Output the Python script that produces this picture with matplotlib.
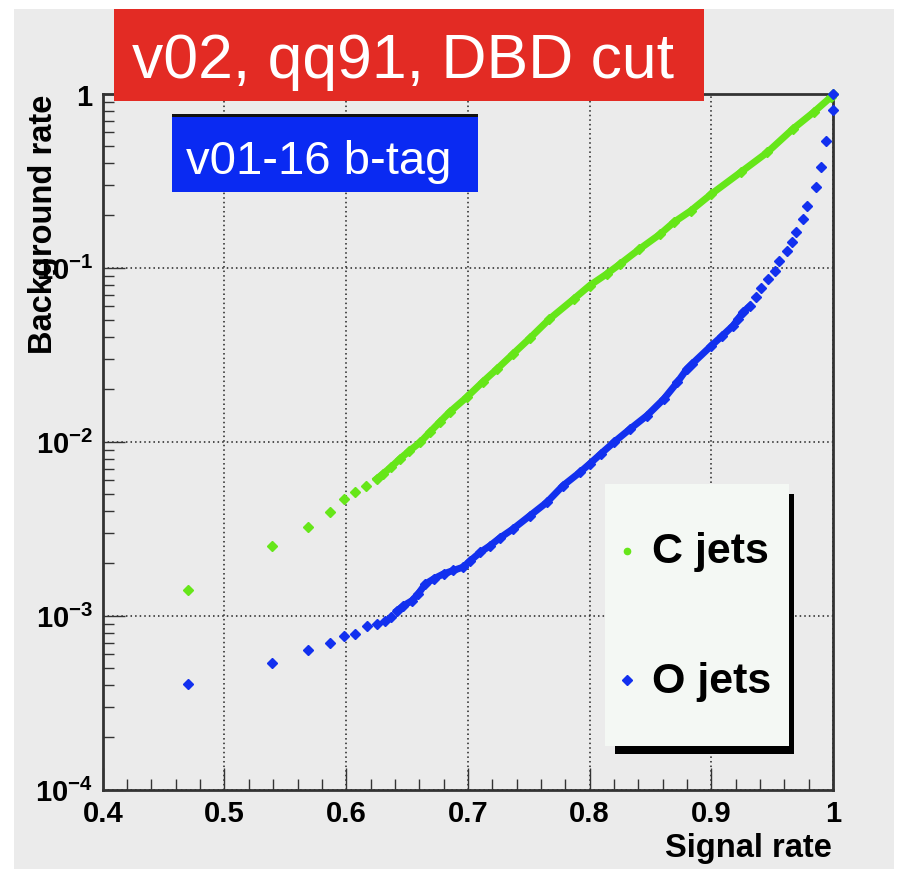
import matplotlib
matplotlib.use('Agg')
import matplotlib.pyplot as plt
from matplotlib.patches import Rectangle
from matplotlib.lines import Line2D
import numpy as np

plt.rcParams['font.family'] = ['Liberation Sans', 'DejaVu Sans']
plt.rcParams['mathtext.fontset'] = 'custom'
plt.rcParams['mathtext.rm'] = 'Liberation Sans'
plt.rcParams['mathtext.bf'] = 'Liberation Sans:bold'
plt.rcParams['mathtext.it'] = 'Liberation Sans:italic'

# C jets (background rate vs signal rate)
c_signal = [0.470, 0.539, 0.569, 0.587, 0.598, 0.607, 0.616, 0.625, 0.630, 0.637,
            0.644, 0.652, 0.661, 0.669, 0.677, 0.685, 0.699, 0.712, 0.724, 0.737,
            0.751, 0.767, 0.787, 0.800, 0.814, 0.825, 0.841, 0.858, 0.869, 0.883,
            0.900, 0.924, 0.946, 0.967, 0.984, 0.998, 1.000]
c_background = [1.41e-3, 2.52e-3, 3.24e-3, 3.94e-3, 4.69e-3, 5.14e-3, 5.56e-3, 6.11e-3, 6.52e-3, 7.16e-3,
                7.96e-3, 8.87e-3, 9.95e-3, 1.14e-2, 1.30e-2, 1.48e-2, 1.80e-2, 2.20e-2, 2.62e-2, 3.19e-2,
                3.94e-2, 5.07e-2, 6.61e-2, 7.89e-2, 9.20e-2, 0.105, 0.128, 0.156, 0.182, 0.212,
                0.265, 0.353, 0.460, 0.627, 0.782, 0.953, 1.0]

# O jets
o_signal = [0.470, 0.539, 0.569, 0.587, 0.598, 0.607, 0.617, 0.625, 0.632, 0.637,
            0.642, 0.647, 0.654, 0.659, 0.665, 0.672, 0.680, 0.688, 0.696, 0.702,
            0.710, 0.718, 0.726, 0.737, 0.751, 0.765, 0.778, 0.792, 0.800, 0.809,
            0.820, 0.833, 0.847, 0.861, 0.872, 0.880, 0.884, 0.900, 0.909, 0.918,
            0.922, 0.926, 0.932, 0.937, 0.941, 0.947, 0.952, 0.956, 0.962, 0.966,
            0.970, 0.975, 0.979, 0.986, 0.990, 0.994, 0.9997, 1.000]
o_background = [4.05e-4, 5.32e-4, 6.35e-4, 6.93e-4, 7.67e-4, 7.85e-4, 8.77e-4, 8.95e-4, 9.35e-4, 9.79e-4,
                1.07e-3, 1.14e-3, 1.22e-3, 1.33e-3, 1.52e-3, 1.63e-3, 1.74e-3, 1.82e-3, 1.90e-3, 2.07e-3,
                2.31e-3, 2.52e-3, 2.79e-3, 3.15e-3, 3.76e-3, 4.49e-3, 5.58e-3, 6.67e-3, 7.45e-3, 8.49e-3,
                9.93e-3, 1.18e-2, 1.41e-2, 1.76e-2, 2.19e-2, 2.62e-2, 2.79e-2, 3.56e-2, 4.06e-2, 4.65e-2,
                5.07e-2, 5.55e-2, 6.05e-2, 6.76e-2, 7.62e-2, 8.61e-2, 9.62e-2, 0.109, 0.124, 0.140,
                0.161, 0.191, 0.227, 0.290, 0.379, 0.535, 0.805, 1.0]

x_ticks = [0.4, 0.5, 0.6, 0.7, 0.8, 0.9, 1.0]
x_ticklabels = ['0.4', '0.5', '0.6', '0.7', '0.8', '0.9', '1']
y_ticks = [1e-4, 1e-3, 1e-2, 1e-1, 1]
y_ticklabels = [r'$\mathbf{10^{-4}}$', r'$\mathbf{10^{-3}}$', r'$\mathbf{10^{-2}}$',
                r'$\mathbf{10^{-1}}$', r'$\mathbf{1}$']

GREEN = '#66e619'
BLUE = '#1230ef'
BG = '#ebebeb'
W, H = 906, 870


def fx(px):
    return px / W


def fy(py):
    return 1 - py / H


fig = plt.figure(figsize=(W / 100, H / 100), dpi=100)
fig.patch.set_facecolor('white')

# серый фон холста
fig.add_artist(Rectangle((fx(14), 0), fx(894) - fx(14), fy(10), transform=fig.transFigure,
                         facecolor=BG, edgecolor='none', zorder=-5))

ax = fig.add_axes([fx(102.8), fy(790.7), fx(833) - fx(102.8), fy(94.7) - fy(790.7)])
ax.set_facecolor(BG)
ax.set_yscale('log')
ax.set_xlim(0.4, 1.0)
ax.set_ylim(1e-4, 1)

ax.set_xticks(x_ticks)
ax.set_xticklabels(x_ticklabels, fontsize=21, fontweight='bold')
ax.set_xticks(np.arange(0.42, 1.0, 0.02), minor=True)
ax.set_yticks(y_ticks)
ax.set_yticklabels(y_ticklabels, fontsize=21)
ax.yaxis.set_minor_locator(matplotlib.ticker.LogLocator(base=10, subs=np.arange(2, 10), numticks=20))
ax.yaxis.set_minor_formatter(matplotlib.ticker.NullFormatter())

ax.tick_params(which='both', direction='in', top=False, right=False, color='#333333', width=1)
ax.tick_params(which='major', length=16, pad=7)
ax.tick_params(which='minor', length=8)
for s in ax.spines.values():
    s.set_linewidth(2)
    s.set_color('#333333')

ax.grid(True, which='major', linestyle=(0, (1, 2)), color='#222222', linewidth=1.1)
ax.set_axisbelow(True)

c_sig = np.array(c_signal)
c_bkg = np.array(c_background)
o_sig = np.array(o_signal)
o_bkg = np.array(o_background)

# плотные участки кривых рисуем ещё и линией
c_dense = c_sig >= 0.625
o_dense = (o_sig >= 0.64) & (o_sig <= 0.932)

ax.plot(c_sig[c_dense], c_bkg[c_dense], color=GREEN, lw=5, zorder=3)
ax.plot(c_sig, c_bkg, ls='none', marker='D', ms=5, color=GREEN, zorder=4, clip_on=False)
ax.plot(o_sig[o_dense], o_bkg[o_dense], color=BLUE, lw=5, zorder=3)
ax.plot(o_sig, o_bkg, ls='none', marker='D', ms=5, color=BLUE, zorder=4, clip_on=False)

# заголовки
fig.add_artist(Rectangle((fx(114.4), fy(101.7)), fx(703.8) - fx(114.4), fy(10) - fy(101.7),
                         transform=fig.transFigure, facecolor='#e32b24', edgecolor='none', zorder=5))
fig.text(fx(131.7), fy(78), 'v02, qq91, DBD cut', fontsize=45, color='white',
         ha='left', va='baseline', zorder=6)

fig.add_artist(Rectangle((fx(171.6), fy(193.3)), fx(478.4) - fx(171.6), fy(115) - fy(193.3),
                         transform=fig.transFigure, facecolor='#0a2af2', edgecolor='none', zorder=5))
fig.add_artist(Rectangle((fx(171.6), fy(118)), fx(478.4) - fx(171.6), fy(115) - fy(118),
                         transform=fig.transFigure, facecolor='#111111', edgecolor='none', zorder=5))
fig.text(fx(186), fy(174), 'v01-16 b-tag', fontsize=34, color='white',
         ha='left', va='baseline', zorder=6)

# легенда с тенью
fig.add_artist(Rectangle((fx(615), fy(755)), fx(794) - fx(615), fy(495) - fy(755),
                         transform=fig.transFigure, facecolor='black', edgecolor='none', zorder=5))
fig.add_artist(Rectangle((fx(605), fy(747)), fx(789) - fx(605), fy(485) - fy(747),
                         transform=fig.transFigure, facecolor='#f4f8f4', edgecolor='none', zorder=5))
fig.add_artist(Line2D([fx(627)], [fy(552)], transform=fig.transFigure, marker='o', ms=4.5,
                      color=GREEN, ls='none', zorder=6))
fig.add_artist(Line2D([fx(627)], [fy(681)], transform=fig.transFigure, marker='D', ms=5,
                      color=BLUE, ls='none', zorder=6))
fig.text(fx(652), fy(563), 'C jets', fontsize=31, fontweight='bold', ha='left', va='baseline', zorder=6)
fig.text(fx(652), fy(693), 'O jets', fontsize=31, fontweight='bold', ha='left', va='baseline', zorder=6)

# подписи осей
fig.text(fx(832), fy(857), 'Signal rate', fontsize=23.5, fontweight='bold',
         ha='right', va='baseline', zorder=6)
fig.text(fx(59), fy(95), 'Background rate', fontsize=23.5, fontweight='bold', rotation=90,
         ha='right', va='top', zorder=6)

fig.savefig('out.png', dpi=100)
